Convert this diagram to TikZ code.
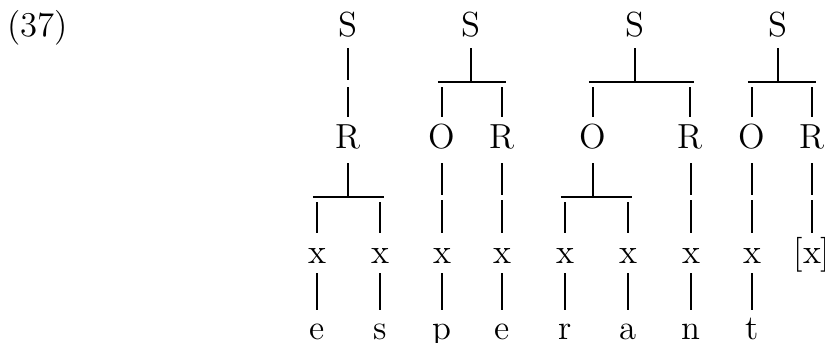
\documentclass[tikz,border=0pt]{standalone}
\usepackage{tikz}
\begin{document}
\begin{tikzpicture}[x={(0.1212mm,0)},y={(0,-0.1212mm)},
    lab/.style={anchor=base,inner sep=0pt,font=\fontsize{12}{14}\selectfont},
    stem/.style={line width=0.5pt},
    bar/.style={line width=1pt}]
    \useasboundingbox (0,0) rectangle (825,342);
    \node[lab,anchor=base west] (num) at (7,36) {(37)};
    % syllable heads
    \node[lab] (S1) at (348,36) {S};
    \node[lab] (S2) at (471,36) {S};
    \node[lab] (S3) at (635,36) {S};
    \node[lab] (S4) at (778,36) {S};
    % onsets and rhymes
    \node[lab] (R1) at (348,148) {R};
    \node[lab] (O2) at (442,148) {O};
    \node[lab] (R2) at (502,148) {R};
    \node[lab] (O3) at (593,148) {O};
    \node[lab] (R3) at (690,148) {R};
    \node[lab] (O4) at (752,148) {O};
    \node[lab] (R4) at (812,148) {R};
    % skeleton
    \foreach \n/\x in {1/317,2/380,3/442,4/502,5/565,6/628,7/691,8/752}
    {\node[lab] (x\n) at (\x,263) {x};}
    \node[lab] (x9) at (812,263) {[x]};
    % segments
    \foreach \n/\s in {1/e,2/s,3/p,4/e,5/r,6/a,7/n,8/t}
    {\node[lab] (m\n) at (x\n |- 0,339) {\s};
     \draw[stem] (x\n |- 0,273) -- (x\n |- 0,310);}
    % S to O/R
    \draw[stem] (S1 |- 0,48) -- (S1 |- 0,80);
    \draw[stem] (R1 |- 0,87) -- (R1 |- 0,117);
    \foreach \s/\o/\r in {S2/O2/R2,S3/O3/R3,S4/O4/R4}
    {\draw[stem] (\s |- 0,48) -- (\s |- 0,82);
     \draw[bar] ([xshift=-1.4pt]\o |- 0,82) -- ([xshift=1.4pt]\r |- 0,82);
     \draw[stem] (\o |- 0,87) -- (\o |- 0,117);
     \draw[stem] (\r |- 0,87) -- (\r |- 0,117);}
    % branching rhyme and onset
    \foreach \p/\a/\b in {R1/x1/x2,O3/x5/x6}
    {\draw[stem] (\p |- 0,163) -- (\p |- 0,197);
     \draw[bar] ([xshift=-1.4pt]\a |- 0,197) -- ([xshift=1.4pt]\b |- 0,197);
     \draw[stem] (\a |- 0,202) -- (\a |- 0,233);
     \draw[stem] (\b |- 0,202) -- (\b |- 0,233);}
    % non-branching
    \foreach \p/\c in {O2/x3,R2/x4,R3/x7,O4/x8,R4/x9}
    {\draw[stem] (\c |- 0,163) -- (\c |- 0,195);
     \draw[stem] (\c |- 0,200) -- (\c |- 0,233);}
\end{tikzpicture}
\end{document}
